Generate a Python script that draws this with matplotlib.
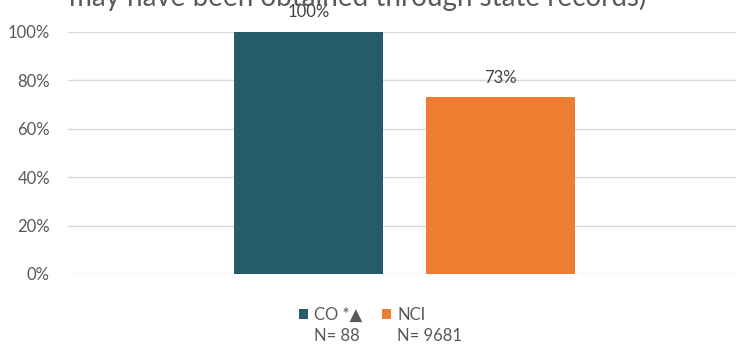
import matplotlib
matplotlib.use("Agg")
import matplotlib.pyplot as plt
from matplotlib.ticker import PercentFormatter

plt.rcParams['font.family'] = ['Lato', 'DejaVu Sans']

series = ["CO *\u25B2", "NCI"]
values = [1.00, 0.73]
counts = ["N= 88", "N= 9681"]
colors = ["#245C6C", "#ED7D31"]
yticks = [0, 0.2, 0.4, 0.6, 0.8, 1.0]
title = "may have been obtained through state records)"

W, H = 736, 352
fig = plt.figure(figsize=(W / 100, H / 100), dpi=100)
ax = fig.add_axes([68 / W, 1 - 274 / H, 673 / W, 242 / H])

width = 0.2214
offsets = [-0.1426, 0.1426]
for s, v, c, o in zip(series, values, colors, offsets):
    b = ax.bar(o, v, width=width, color=c, label=s, zorder=3)
    ax.bar_label(b, labels=[f"{v*100:.0f}%"], padding=8.5, fontsize=12, color="#404040")

ax.set_xlim(-0.5, 0.5)
ax.set_ylim(0, 1.0)
ax.set_yticks(yticks)
ax.yaxis.set_major_formatter(PercentFormatter(1.0, decimals=0))
ax.tick_params(axis='y', length=0, labelsize=12, labelcolor="#595959", pad=13)
ax.set_xticks([])
ax.grid(axis='y', color="#D9D9D9", linewidth=1, zorder=0)
for sp in ax.spines.values():
    sp.set_visible(False)

fig.text(358 / W, 1 - 6 / H, title, ha='center', va='baseline', fontsize=20, color="#595959")

leg = fig.legend(loc='upper left', bbox_to_anchor=(299 / W, 1 - 307 / H), ncol=2, frameon=False,
                 fontsize=12, handlelength=0.55, handleheight=0.55, handletextpad=0.35,
                 columnspacing=1.2, borderpad=0, borderaxespad=0, labelcolor="#595959")

fig.canvas.draw()
r = fig.canvas.get_renderer()
for t, n in zip(leg.get_texts(), counts):
    bb = t.get_window_extent(r)
    fig.text(bb.x0 / W, (bb.y0 - 5) / H, n, ha='left', va='top',
             fontsize=12, color="#595959")

fig.savefig("out.png", dpi=100)
